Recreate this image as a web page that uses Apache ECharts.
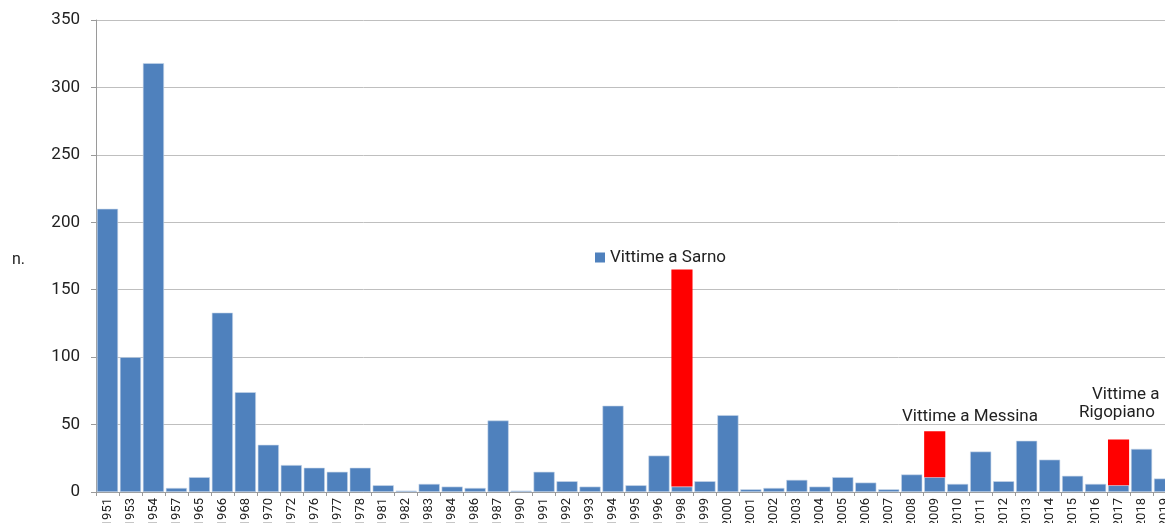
<!DOCTYPE html>
<html><head><meta charset="utf-8">
<script src="https://cdn.jsdelivr.net/npm/echarts@6/dist/echarts.min.js"></script>
<style>html,body{margin:0;padding:0;background:#fff}#c{width:1165px;height:523px}</style>
</head><body><div id="c"></div>
<script>
const years = ['1951','1953','1954','1957','1965','1966','1968','1970','1972','1976','1977','1978','1981','1982','1983','1984','1986','1987','1990','1991','1992','1993','1994','1995','1996','1998','1999','2000','2001','2002','2003','2004','2005','2006','2007','2008','2009','2010','2011','2012','2013','2014','2015','2016','2017','2018','2019'];
const victims = [210,100,318,3,11,133,74,35,20,18,15,18,5,1,6,4,3,53,1,15,8,4,64,5,27,4,8,57,2,3,9,4,11,7,2,13,11,6,30,8,38,24,12,6,5,32,10];
const specialEvents = [0,0,0,0,0,0,0,0,0,0,0,0,0,0,0,0,0,0,0,0,0,0,0,0,0,161,0,0,0,0,0,0,0,0,0,0,34,0,0,0,0,0,0,0,34,0,0];
const yTicks = [0,50,100,150,200,250,300,350];

const font = 'Roboto';
const chart = echarts.init(document.getElementById('c'));
chart.setOption({
  animation: false,
  textStyle: {fontFamily: font},
  grid: {left: 96, top: 20, right: -11, bottom: 31, containLabel: false, outerBoundsMode: 'none'},
  legend: {
    left: 590, top: 244, itemWidth: 10, itemHeight: 10, itemGap: 6,
    icon: 'rect',
    textStyle: {fontSize: 17, color: '#222', fontFamily: font},
    data: [{name: 'Vittime a Sarno', itemStyle: {color: '#4F81BD'}}]
  },
  xAxis: {
    type: 'category', data: years,
    axisLine: {lineStyle: {color: '#9a9a9a', width: 1}},
    axisTick: {show: true, length: 4, lineStyle: {color: '#9a9a9a'}},
    axisLabel: {rotate: 90, fontSize: 13, color: '#222', margin: 6, interval: 0}
  },
  yAxis: {
    type: 'value', min: 0, max: 350, interval: 50,
    axisLine: {show: true, lineStyle: {color: '#9a9a9a'}},
    axisTick: {show: true, length: 5, lineStyle: {color: '#9a9a9a'}},
    axisLabel: {fontSize: 17, color: '#222', margin: 16},
    splitLine: {lineStyle: {color: '#bfbfbf', width: 1}}
  },
  graphic: [
    {type: 'text', left: 12, top: 252, style: {text: 'n.', fontSize: 16, fill: '#222', fontFamily: font}},
    {type: 'text', left: 902, top: 408, style: {text: 'Vittime a Messina', fontSize: 17, fill: '#222', fontFamily: font}},
    {type: 'text', left: 1092, top: 386, style: {text: 'Vittime a', fontSize: 17, fill: '#222', fontFamily: font}},
    {type: 'text', left: 1079, top: 404, style: {text: 'Rigopiano', fontSize: 17, fill: '#222', fontFamily: font}}
  ],
  series: [
    {name: 'Vittime', type: 'bar', stack: 'v', data: victims, barCategoryGap: '8%',
     itemStyle: {color: '#4F81BD', borderColor: '#c9d7ea', borderWidth: 0.6}},
    {name: 'Vittime a Sarno', type: 'bar', stack: 'v', data: specialEvents,
     itemStyle: {color: '#FF0000'}}
  ]
});
</script></body></html>
